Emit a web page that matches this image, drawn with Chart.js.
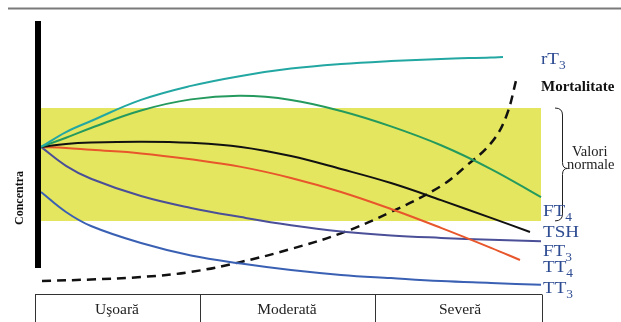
<!DOCTYPE html>
<html>
<head>
<meta charset="utf-8">
<script src="https://cdn.jsdelivr.net/npm/chart.js@4/dist/chart.umd.min.js"></script>
<style>
html, body { margin: 0; padding: 0; background: #fff; }
#wrap { position: relative; width: 621px; height: 322px; overflow: hidden; font-family: "Liberation Serif", "DejaVu Serif", serif; }
#wrap canvas { position: absolute; left: 0; top: 0; }
.lbl { position: absolute; white-space: nowrap; line-height: 1; }
.ser { color: #2e4c92; font-size: 17px; transform: scaleX(1.12); transform-origin: left center; }
.ser sub { font-size: 12px; vertical-align: -5px; line-height: 0; }
.mort { color: #111; font-size: 15px; font-weight: bold; }
.norm { color: #222; font-size: 14.5px; }
.cat { color: #222; font-size: 15.5px; transform: translateX(-50%); }
.yt { color: #111; font-size: 12px; font-weight: bold; transform: translate(-50%, -50%) rotate(-90deg); }
</style>
</head>
<body>
<div id="wrap">
  <canvas id="myChart"></canvas>
</div>
<script>
// severity categories under the x axis
var categories = ["Uşoară", "Moderată", "Severă"];

// common x positions (share of the disease course, 0-100)
var xs = [0, 5, 10, 20, 30, 40, 50, 60, 70, 80, 90];

// concentration values (relative, 0-100)
var rT3 = [53.0, 58.5, 62.6, 70.4, 75.6, 79.3, 82.0, 83.7, 84.8, 85.6, 86.1, 86.3];
var FT4 = [53.0, 56.4, 60.0, 66.5, 70.6, 71.9, 70.4, 66.3, 60.6, 53.6, 44.8, 34.4];
var TSH = [53.0, 54.1, 54.6, 54.9, 54.5, 53.0, 49.6, 44.8, 39.6, 33.3, 26.7, 21.5];
var TT4 = [53.0, 52.6, 51.9, 50.6, 48.4, 45.6, 41.5, 36.3, 30.0, 23.0, 15.6, 11.1];
var FT3 = [53.0, 46.0, 41.2, 34.8, 30.4, 27.0, 24.0, 21.7, 20.2, 19.3, 18.6, 18.1];
var TT3 = [36.3, 28.9, 23.7, 17.4, 12.8, 9.8, 7.4, 5.6, 4.4, 3.3, 2.6, 1.9];
// where each curve stops
var endX = { rT3: 92.4, FT4: 100, TSH: 97.8, TT4: 95.8, FT3: 100, TT3: 100 };

// mortality curve (dashed)
var mortX = [0.2, 10, 20, 30, 40, 50, 60, 70, 80, 85, 90, 93, 95.2];
var mortY = [3.3, 3.9, 4.8, 6.7, 10.4, 15.2, 21.0, 28.9, 38.5, 45.9, 54.4, 64.1, 78.9];

// normal range band
var normalRange = [25.6, 67.4];
var bandX = [0, 100];

function pts(name, ys) {
    var x = xs.concat([endX[name]]);
    return ys.map(function (v, i) { return { x: x[i], y: v }; });
}

function line(label, data, color, extra) {
    var ds = {
        label: label,
        data: data,
        borderColor: color,
        backgroundColor: color,
        borderWidth: 2,
        pointRadius: 0,
        fill: false,
        tension: 0.4,
        order: 1
    };
    for (var k in extra) ds[k] = extra[k];
    return ds;
}

var framePlugin = {
    id: "frame",
    beforeDraw: function (chart) {
        var c = chart.ctx;
        c.save();
        c.strokeStyle = "#7a7a7a";
        c.lineWidth = 2;
        c.beginPath();
        c.moveTo(8, 8.5);
        c.lineTo(621, 8.5);
        c.stroke();
        c.restore();
    },
    afterDraw: function (chart) {
        var c = chart.ctx;
        var a = chart.chartArea;
        c.save();
        // thick vertical axis
        c.fillStyle = "#000";
        c.fillRect(a.left - 6, 21, 6, 247);
        // category boxes
        c.strokeStyle = "#333";
        c.lineWidth = 1;
        var edges = [a.left - 6, 200, 375, a.right + 1];
        c.beginPath();
        c.moveTo(edges[0], 294.5);
        c.lineTo(edges[3], 294.5);
        edges.forEach(function (e) {
            c.moveTo(Math.round(e) + 0.5, 294.5);
            c.lineTo(Math.round(e) + 0.5, 322);
        });
        c.stroke();
        // brace for normal range
        var yTop = chart.scales.y.getPixelForValue(normalRange[1]);
        var yBot = chart.scales.y.getPixelForValue(normalRange[0]);
        var yMid = (yTop + yBot) / 2 + 4;
        var bx = 562.5;
        c.strokeStyle = "#222";
        c.beginPath();
        c.moveTo(555, yTop);
        c.quadraticCurveTo(bx, yTop, bx, yTop + 7);
        c.lineTo(bx, yMid - 6);
        c.quadraticCurveTo(bx, yMid, bx + 5, yMid);
        c.quadraticCurveTo(bx, yMid, bx, yMid + 6);
        c.lineTo(bx, yBot - 7);
        c.quadraticCurveTo(bx, yBot, 555, yBot);
        c.stroke();
        c.restore();
    }
};

var ctx = document.getElementById("myChart").getContext("2d");

var chart = new Chart(ctx, {
    type: "line",
    data: {
        datasets: [
            line("rT3", pts("rT3", rT3), "#23a7a2"),
            line("FT4", pts("FT4", FT4), "#259a5e"),
            line("TSH", pts("TSH", TSH), "#111111"),
            line("TT4", pts("TT4", TT4), "#e8562c"),
            line("FT3", pts("FT3", FT3), "#4a4f98"),
            line("TT3", pts("TT3", TT3), "#3a60b4"),
            line("Mortalitate", mortX.map(function (x, i) { return { x: x, y: mortY[i] }; }), "#111111",
                { borderDash: [9, 6], borderWidth: 2.5 }),
            // normal range band
            line("top", bandX.map(function (x) { return { x: x, y: normalRange[1] }; }), "rgba(0,0,0,0)",
                { fill: "+1", backgroundColor: "#e5e65f", borderWidth: 0, tension: 0, order: 10 }),
            line("bottom", bandX.map(function (x) { return { x: x, y: normalRange[0] }; }), "rgba(0,0,0,0)",
                { borderWidth: 0, tension: 0, order: 11 })
        ]
    },
    options: {
        responsive: true,
        maintainAspectRatio: false,
        animation: false,
        layout: { padding: { left: 41, right: 80, top: 20, bottom: 32 } },
        scales: {
            x: { type: "linear", min: 0, max: 100, display: false },
            y: { min: 0, max: 100, display: false }
        },
        plugins: {
            legend: { display: false },
            tooltip: { enabled: false }
        },
        clip: false
    },
    plugins: [framePlugin]
});

// text labels
var wrap = document.getElementById("wrap");
function addLabel(html, cls, left, top) {
    var d = document.createElement("div");
    d.className = "lbl " + cls;
    d.innerHTML = html;
    d.style.left = left + "px";
    d.style.top = top + "px";
    wrap.appendChild(d);
}

var seriesLabels = [
    ["rT<sub>3</sub>", 541, 50],
    ["FT<sub>4</sub>", 543, 202],
    ["TSH", 543, 223],
    ["FT<sub>3</sub>", 543, 242],
    ["TT<sub>4</sub>", 543, 258],
    ["TT<sub>3</sub>", 543, 279]
];
seriesLabels.forEach(function (s) { addLabel(s[0], "ser", s[1], s[2]); });

addLabel("Mortalitate", "mort", 541, 79);
addLabel("Valori", "norm", 572, 144);
addLabel("normale", "norm", 567, 157);

var catCenters = [117, 287, 460];
categories.forEach(function (c, i) { addLabel(c, "cat", catCenters[i], 301); });

addLabel("Concentra", "yt", 19, 198);
</script>
</body>
</html>
